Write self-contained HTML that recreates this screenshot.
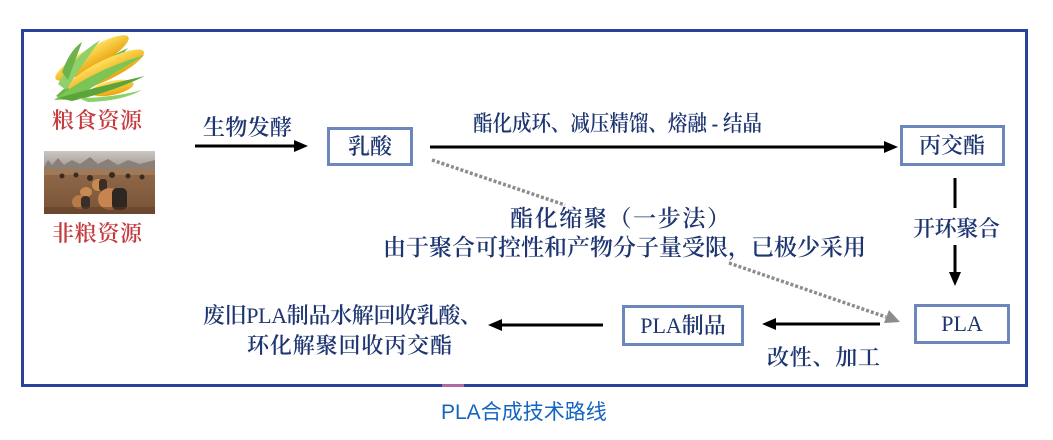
<!DOCTYPE html>
<html><head><meta charset="utf-8"><style>
html,body{margin:0;padding:0;background:#fff;}
svg{display:block;}
.s{font-family:"Liberation Serif","Noto Serif CJK SC",serif;font-size:22px;fill:#1d3570;font-weight:600;}
.n{font-weight:normal;}
</style></head><body>
<svg width="1053" height="440" viewBox="0 0 1053 440" xmlns="http://www.w3.org/2000/svg">
<defs>
<linearGradient id="sky" x1="0" y1="0" x2="0" y2="1"><stop offset="0" stop-color="#c9c6c4"/><stop offset="1" stop-color="#a89c92"/></linearGradient>
<linearGradient id="fld" x1="0" y1="0" x2="0" y2="1"><stop offset="0" stop-color="#9a7352"/><stop offset="1" stop-color="#7a5236"/></linearGradient>
<linearGradient id="cob" x1="0" y1="0" x2="0" y2="1"><stop offset="0" stop-color="#ffe060"/><stop offset="1" stop-color="#e8a510"/></linearGradient>
</defs>
<!-- outer frame -->
<rect x="22.5" y="30.5" width="1004" height="355" fill="none" stroke="#2a419b" stroke-width="3"/>
<rect x="442" y="384" width="22" height="3" fill="#b06aa0"/>

<!-- corn -->
<g>
<path d="M56 96 Q85 68 128 48 Q108 72 64 100 Z" fill="#6bb34a"/>
<ellipse cx="92" cy="58" rx="42" ry="10" transform="rotate(-30 92 58)" fill="url(#cob)"/>
<ellipse cx="106" cy="70" rx="42" ry="10" transform="rotate(-26 106 70)" fill="url(#cob)"/>
<ellipse cx="112" cy="88" rx="22" ry="7" transform="rotate(-12 112 88)" fill="url(#cob)"/>
<path d="M54 100 Q92 70 145 55 Q112 74 82 94 Q70 100 54 100 Z" fill="#7cc456"/>
<path d="M58 98 Q100 86 145 76 Q112 92 72 101 Z" fill="#5aa43a"/>
<path d="M78 98 Q112 98 142 90 Q122 101 88 102 Z" fill="#8fd06a"/>
<path d="M58 84 Q72 58 100 40 Q84 62 66 90 Z" fill="#8fd06a"/>
<path d="M62 72 Q70 50 82 42 Q76 58 68 80 Z" fill="#6bb34a"/>
</g>

<!-- field photo -->
<g>
<rect x="44" y="151" width="111" height="63" fill="url(#fld)"/>
<rect x="44" y="151" width="111" height="16" fill="url(#sky)"/>
<path d="M44 167 L48 160 L52 165 L58 158 L64 165 L72 160 L80 164 L90 157 L98 164 L108 159 L118 165 L128 160 L140 164 L155 160 L155 169 L44 169 Z" fill="#8a807a"/>
<rect x="44" y="169" width="111" height="6" fill="#a07a58"/>
<circle cx="62" cy="176" r="2.5" fill="#3a2a20"/><circle cx="76" cy="175" r="2.5" fill="#3a2a20"/>
<circle cx="90" cy="178" r="3" fill="#3a2a20"/><circle cx="112" cy="175" r="3" fill="#3a2a20"/>
<circle cx="128" cy="176" r="2.5" fill="#3a2a20"/><circle cx="142" cy="177" r="2.5" fill="#3a2a20"/>
<ellipse cx="98" cy="185" rx="6" ry="6" fill="#c98a50"/><rect x="99" y="179" width="8" height="12" rx="3" fill="#3b2e26"/>
<ellipse cx="86" cy="192" rx="6" ry="5" fill="#c98a50"/>
<ellipse cx="110" cy="199" rx="12" ry="11" fill="#c78450"/><rect x="112" y="188" width="15" height="22" rx="5" fill="#2e2620"/>
<ellipse cx="80" cy="202" rx="8" ry="7" fill="#b87a48"/><rect x="81" y="196" width="9" height="13" rx="4" fill="#3b2e26"/>
<rect x="44" y="207" width="111" height="7" fill="#5c3c28" opacity="0.5"/>
</g>

<!-- left labels -->
<text x="52" y="128" font-family="Liberation Serif,'Noto Serif CJK SC',serif" font-size="22" font-weight="600" fill="#c63a3d" textLength="90">粮食资源</text>
<text x="52" y="241" font-family="Liberation Serif,'Noto Serif CJK SC',serif" font-size="22" font-weight="600" fill="#c63a3d" textLength="90">非粮资源</text>

<!-- arrows -->
<g stroke="#000" stroke-width="3" fill="none">
<line x1="195" y1="146" x2="296" y2="146"/>
<line x1="430" y1="147" x2="886" y2="147"/>
<line x1="955" y1="178" x2="955" y2="208"/>
<line x1="955" y1="245" x2="955" y2="274"/>
<line x1="880" y1="324" x2="775" y2="324"/>
<line x1="603" y1="325" x2="500" y2="325"/>
</g>
<g fill="#000">
<polygon points="308,146 294,140 294,152"/>
<polygon points="898,147 884,141 884,153"/>
<polygon points="955,286 949,272 961,272"/>
<polygon points="762,324 776,318 776,330"/>
<polygon points="488,325 502,319 502,331"/>
</g>

<!-- dotted line -->
<g stroke="#8c8c8c" stroke-width="3.5" stroke-dasharray="3 2" fill="none">
<line x1="432" y1="160" x2="565" y2="205"/>
<line x1="729" y1="263" x2="886" y2="317"/>
</g>
<polygon points="900,322 884,323 889,310" fill="#8c8c8c"/>

<!-- boxes -->
<g fill="#fff" stroke="#6d86bb" stroke-width="3">
<rect x="328.5" y="128.5" width="83" height="36"/>
<rect x="901.5" y="126.5" width="102" height="38"/>
<rect x="623.5" y="306.5" width="119" height="38"/>
<rect x="915.5" y="305.5" width="93" height="37"/>
</g>

<!-- texts -->
<text class="s" x="203" y="135" textLength="89">生物发酵</text>
<text class="s" x="370" y="154" text-anchor="middle">乳酸</text>
<text class="s" x="473" y="131" textLength="289" lengthAdjust="spacingAndGlyphs">酯化成环、减压精馏、熔融 - 结晶</text>
<text class="s" x="952" y="153" text-anchor="middle">丙交酯</text>
<text class="s" x="913" y="236" textLength="87">开环聚合</text>
<text class="s" x="510" y="226" style="font-size:23px" textLength="220">酯化缩聚（一步法）</text>
<text class="s" x="383" y="255" style="font-size:23px" textLength="483">由于聚合可控性和产物分子量受限，已极少采用</text>
<text class="s n" x="962" y="331" text-anchor="middle">PLA</text>
<text class="s" x="683" y="333" text-anchor="middle"><tspan class="n">PLA</tspan>制品</text>
<text class="s" x="767" y="365" textLength="113">改性、加工</text>
<text class="s" x="203" y="323" textLength="279">废旧<tspan class="n">PLA</tspan>制品水解回收乳酸、</text>
<text class="s" x="247" y="353" textLength="205">环化解聚回收丙交酯</text>

<!-- caption -->
<text x="441" y="419" font-family="Liberation Sans,'Noto Sans CJK SC',sans-serif" font-size="21" fill="#1565c0">PLA合成技术路线</text>
</svg>
</body></html>
